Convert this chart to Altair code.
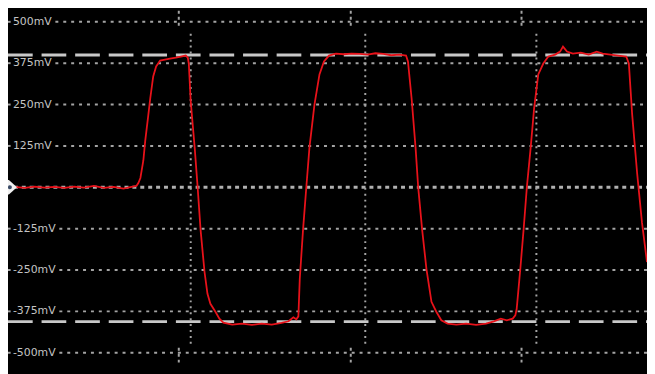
import altair as alt
import pandas as pd

# ---- waveform trace (time in divisions/us, level in mV)
t_us = [-0.023, 0.04, 0.097, 0.154, 0.211, 0.269, 0.326, 0.383, 0.44, 0.497, 0.554, 0.611, 0.657, 0.686,
        0.697, 0.709, 0.726, 0.737, 0.754, 0.766, 0.783, 0.8, 0.823, 0.851, 0.88, 0.914, 0.943, 0.971, 0.983,
        0.989, 1.0, 1.023, 1.04, 1.057, 1.08, 1.097, 1.114, 1.143, 1.166, 1.189, 1.24, 1.297, 1.354, 1.411,
        1.469, 1.526, 1.566, 1.594, 1.611,
        1.623, 1.631, 1.65, 1.669, 1.687, 1.716, 1.745, 1.771, 1.8, 1.84, 1.886, 1.931, 1.977, 2.023, 2.069,
        2.114, 2.16, 2.206, 2.246,
        2.257, 2.278, 2.301, 2.316, 2.339, 2.364, 2.393, 2.421, 2.45, 2.486, 2.537, 2.594, 2.651, 2.709,
        2.754, 2.794, 2.829, 2.863, 2.878,
        2.886, 2.907, 2.926, 2.945, 2.967, 2.987, 3.011, 3.04, 3.069, 3.109, 3.137, 3.154, 3.177, 3.211,
        3.257, 3.303, 3.349, 3.383, 3.429, 3.474, 3.52,
        3.535, 3.554, 3.583, 3.611, 3.64]
mv = [1, -2, 2, -1, 1, -2, 2, -1, 4, -2, 1, -4, 1, 4,
      13, 28, 81, 141, 215, 269, 335, 365, 383, 386, 389, 392, 395, 398, 392,
      374, 260, 120, 1, -128, -256, -322, -352, -376, -397, -409, -415, -412, -416, -412,
      -415, -410, -405, -393, -399,
      -390, -277, -128, 1, 120, 250, 341, 380, 398, 404, 402, 404, 403, 401, 405,
      403, 399, 401, 398,
      380, 269, 120, 1, -128, -247, -346, -376, -402, -412, -415, -412, -416, -412,
      -405, -397, -402, -397, -387,
      -368, -247, -128, 1, 120, 239, 341, 374, 395, 401, 410, 425, 410, 404,
      407, 401, 410, 404, 401, 398, 395,
      374, 221, 42, -107, -226]

# ---- graticule
grid_mv = [500, 375, 250, 125, -125, -250, -375, -500]
grid_labels = ["500mV", "375mV", "250mV", "125mV", "-125mV", "-250mV", "-375mV", "-500mV"]
grid_start = [0.217, 0.217, 0.217, 0.217, 0.24, 0.24, 0.24, 0.24]
zero_mv = [0]
zero_start = [-0.023]
vgrid_t = [1.0, 2.01, 3.0]
vtick_t = [0.931, 1.926, 2.914]
cursor_mv = [400, -406]

T_MIN, T_MAX = -0.0571, 3.64
MV_MIN, MV_MAX = -557.4, 534.9

xs = alt.Scale(domain=[T_MIN, T_MAX], nice=False, zero=False)
ys = alt.Scale(domain=[MV_MIN, MV_MAX], nice=False, zero=False)

trace = pd.DataFrame({"t": t_us, "mv": mv})
grid = pd.DataFrame({"mv": grid_mv, "label": grid_labels, "start": grid_start,
                     "end": [T_MAX] * len(grid_mv), "lt": [-0.0286] * len(grid_mv),
                     "s0": [T_MIN] * len(grid_mv), "s1": [-0.042] * len(grid_mv)})
zero = pd.DataFrame({"mv": zero_mv, "start": zero_start, "end": [T_MAX]})
vgrid = pd.DataFrame({"t": vgrid_t, "y0": [464] * 3, "y1": [-479] * 3})
vticks = pd.DataFrame({"t": vtick_t * 2, "y0": [551] * 3 + [-485] * 3, "y1": [479] * 3 + [-536] * 3})
cursors = pd.DataFrame({"mv": cursor_mv, "s": [T_MIN] * 2, "e": [T_MAX] * 2})
marker = pd.DataFrame({"t": [T_MIN], "mv": [0]})
marker_dot = pd.DataFrame({"t": [-0.046], "mv": [0]})

GRID = "#a4a4a4"

hgrid = alt.Chart(grid).mark_rule(color=GRID, strokeWidth=2, strokeDash=[3, 5]).encode(
    x=alt.X("start:Q", scale=xs, axis=None), x2="end:Q", y=alt.Y("mv:Q", scale=ys, axis=None))
stubs = alt.Chart(grid).mark_rule(color=GRID, strokeWidth=2).encode(
    x=alt.X("s0:Q", scale=xs, axis=None), x2="s1:Q", y=alt.Y("mv:Q", scale=ys, axis=None))
zline = alt.Chart(zero).mark_rule(color="#b0b0b0", strokeWidth=3, strokeDash=[4, 4]).encode(
    x=alt.X("start:Q", scale=xs, axis=None), x2="end:Q", y=alt.Y("mv:Q", scale=ys, axis=None))
vlines = alt.Chart(vgrid).mark_rule(color=GRID, strokeWidth=2, strokeDash=[2, 4]).encode(
    x=alt.X("t:Q", scale=xs, axis=None), y=alt.Y("y0:Q", scale=ys, axis=None), y2="y1:Q")
vshort = alt.Chart(vticks).mark_rule(color=GRID, strokeWidth=2, strokeDash=[3, 3]).encode(
    x=alt.X("t:Q", scale=xs, axis=None), y=alt.Y("y0:Q", scale=ys, axis=None), y2="y1:Q")
cur = alt.Chart(cursors).mark_rule(color="#c8c8c8", strokeWidth=3, strokeDash=[25, 9]).encode(
    x=alt.X("s:Q", scale=xs, axis=None), x2="e:Q", y=alt.Y("mv:Q", scale=ys, axis=None))
line = alt.Chart(trace).mark_line(color="#e8121a", strokeWidth=1.8, clip=True).encode(
    x=alt.X("t:Q", scale=xs, axis=None), y=alt.Y("mv:Q", scale=ys, axis=None), order="t:Q")
labels = alt.Chart(grid).mark_text(align="left", baseline="middle", font="DejaVu Sans",
                                   fontSize=11, color="#c4c4c4").encode(
    x=alt.X("lt:Q", scale=xs, axis=None), y=alt.Y("mv:Q", scale=ys, axis=None), text="label:N")
mk = alt.Chart(marker).mark_point(shape="M-1,-0.8L0.1,-0.8L1,0L0.1,0.8L-1,0.8Z", filled=True,
                                  color="#f0f0f0", size=330, opacity=1).encode(
    x=alt.X("t:Q", scale=xs, axis=None), y=alt.Y("mv:Q", scale=ys, axis=None))
mkd = alt.Chart(marker_dot).mark_point(shape="circle", filled=True, color="#3a4a66", size=16,
                                       opacity=1).encode(
    x=alt.X("t:Q", scale=xs, axis=None), y=alt.Y("mv:Q", scale=ys, axis=None))

chart = alt.layer(hgrid, stubs, zline, vlines, vshort, cur, line, labels, mk, mkd).properties(
    width=647, height=366, background="#000000", padding=0,
    autosize=alt.AutoSizeParams(type="none")
).configure_view(stroke=None, fill="#000000")

chart.save("out.html", embed_options={"renderer": "svg", "actions": False})
